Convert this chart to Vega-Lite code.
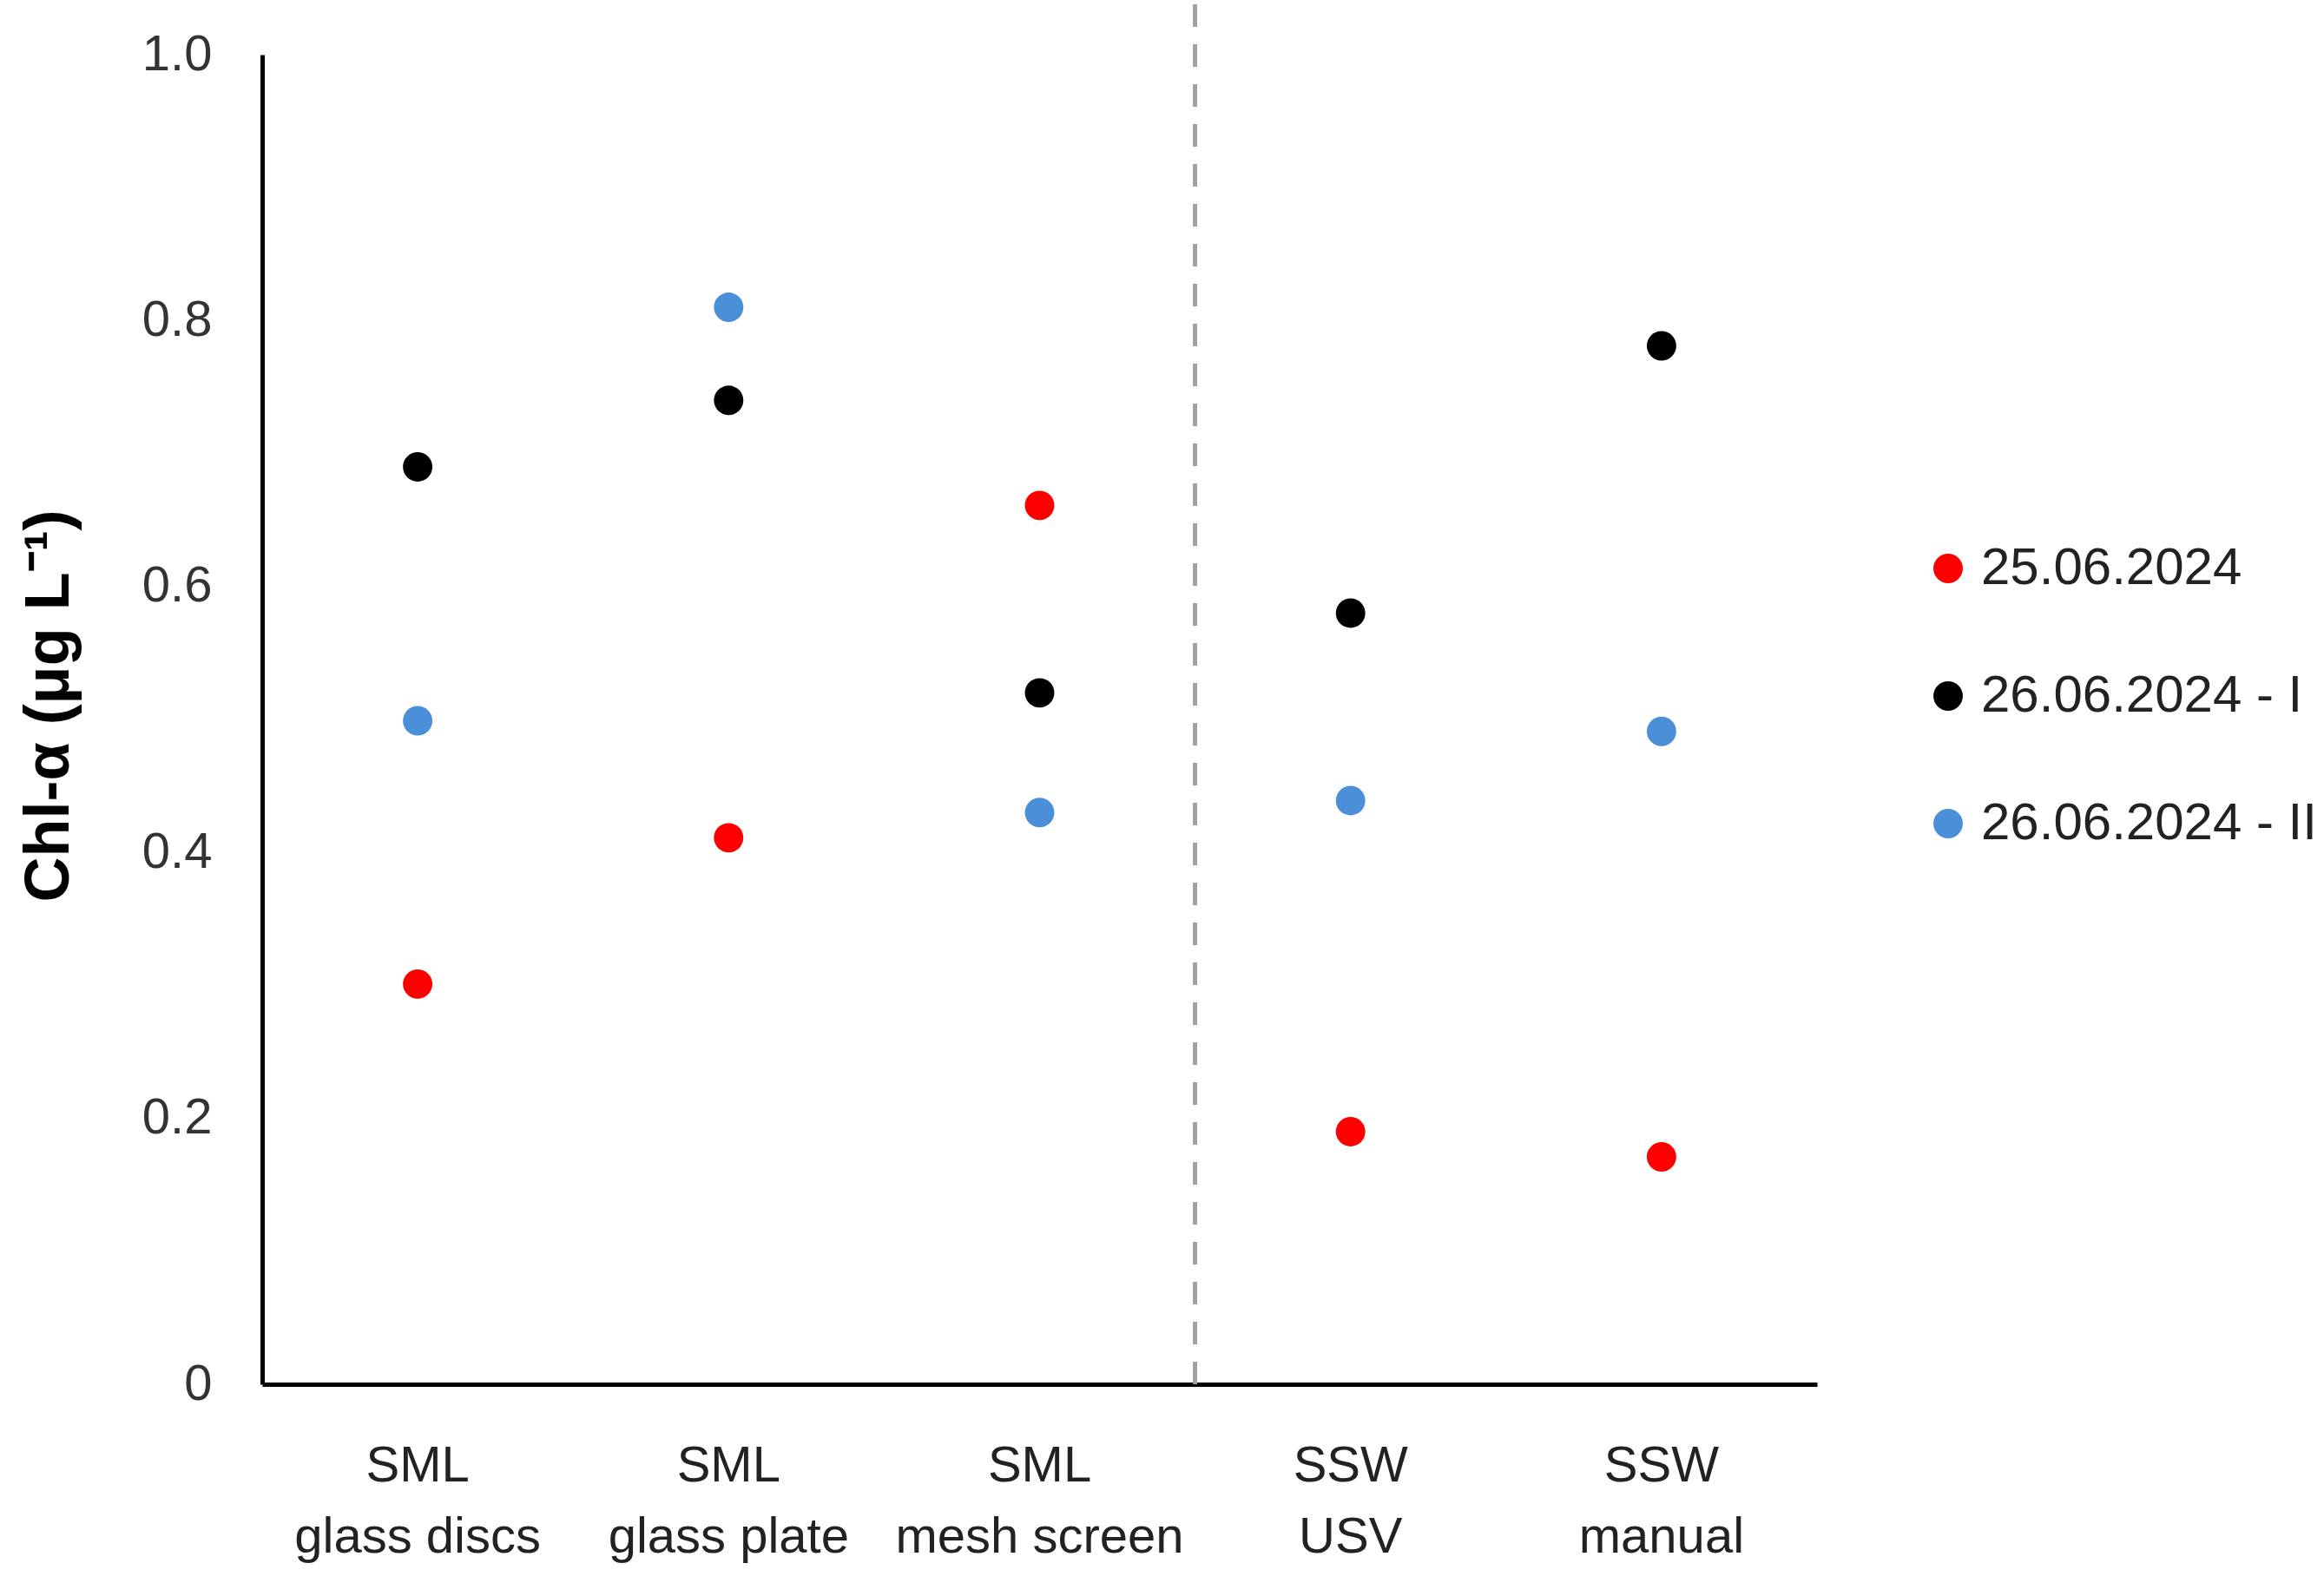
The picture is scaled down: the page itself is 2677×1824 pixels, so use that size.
{
  "$schema": "https://vega.github.io/schema/vega-lite/v6.json",
  "width": 1791,
  "height": 1532,
  "autosize": "none",
  "padding": {"left": 302, "top": 63, "right": 584, "bottom": 229},
  "background": "white",
  "config": {"view": {"stroke": null}, "font": "Liberation Sans"},
  "data": {
    "values": [
      {"method": "SML|glass discs", "date": "25.06.2024", "chl": 0.301},
      {"method": "SML|glass discs", "date": "26.06.2024 - I", "chl": 0.690},
      {"method": "SML|glass discs", "date": "26.06.2024 - II", "chl": 0.499},
      {"method": "SML|glass plate", "date": "25.06.2024", "chl": 0.411},
      {"method": "SML|glass plate", "date": "26.06.2024 - I", "chl": 0.740},
      {"method": "SML|glass plate", "date": "26.06.2024 - II", "chl": 0.810},
      {"method": "SML|mesh screen", "date": "25.06.2024", "chl": 0.661},
      {"method": "SML|mesh screen", "date": "26.06.2024 - I", "chl": 0.520},
      {"method": "SML|mesh screen", "date": "26.06.2024 - II", "chl": 0.430},
      {"method": "SSW|USV", "date": "25.06.2024", "chl": 0.190},
      {"method": "SSW|USV", "date": "26.06.2024 - I", "chl": 0.580},
      {"method": "SSW|USV", "date": "26.06.2024 - II", "chl": 0.439},
      {"method": "SSW|manual", "date": "25.06.2024", "chl": 0.171},
      {"method": "SSW|manual", "date": "26.06.2024 - I", "chl": 0.781},
      {"method": "SSW|manual", "date": "26.06.2024 - II", "chl": 0.491}
    ]
  },
  "layer": [
    {
      "mark": {"type": "rule", "color": "#a0a0a0", "strokeWidth": 3.5, "strokeDash": [26, 20]},
      "encoding": {
        "x": {"datum": "SML|mesh screen", "type": "nominal", "bandPosition": 1},
        "y": {"datum": 0, "type": "quantitative"},
        "y2": {"datum": 1.045}
      }
    },
    {
      "mark": {"type": "circle", "size": 1150, "opacity": 1},
      "encoding": {
        "x": {
          "field": "method",
          "type": "nominal",
          "sort": ["SML|glass discs", "SML|glass plate", "SML|mesh screen", "SSW|USV", "SSW|manual"],
          "scale": {"type": "band", "paddingInner": 0, "paddingOuter": 0, "domain": ["SML|glass discs", "SML|glass plate", "SML|mesh screen", "SSW|USV", "SSW|manual"]},
          "axis": {
            "title": null,
            "ticks": false,
            "grid": false,
            "labelAngle": 0,
            "labelAlign": "center",
            "labelExpr": "split(datum.label, '|')",
            "labelFontSize": 58,
            "labelLineHeight": 82,
            "labelPadding": 94,
            "labelLimit": 800,
            "labelColor": "#222222",
            "domainColor": "#000000",
            "domainWidth": 5
          }
        },
        "y": {
          "field": "chl",
          "type": "quantitative",
          "scale": {"domain": [0, 1], "nice": false, "zero": true},
          "axis": {
            "values": [0, 0.2, 0.4, 0.6, 0.8, 1],
            "labelExpr": "datum.value == 0 ? '0' : format(datum.value, '.1f')",
            "ticks": false,
            "grid": false,
            "domainColor": "#000000",
            "domainWidth": 5,
            "labelFontSize": 58,
            "labelPadding": 58,
            "labelColor": "#333333",
            "title": "Chl-α (μg L⁻¹)",
            "titleFontSize": 72,
            "titleFontWeight": "bold",
            "titleColor": "#000000",
            "titleX": -246,
            "titleY": 750,
            "titleBaseline": "middle"
          }
        },
        "color": {
          "field": "date",
          "type": "nominal",
          "scale": {"domain": ["25.06.2024", "26.06.2024 - I", "26.06.2024 - II"], "range": ["#ff0000", "#000000", "#4a8fd8"]},
          "legend": {
            "orient": "none",
            "legendX": 1912,
            "legendY": 562,
            "title": null,
            "padding": 0,
            "labelFontSize": 60,
            "labelColor": "#222222",
            "symbolSize": 1150,
            "symbolType": "circle",
            "symbolStrokeWidth": 0,
            "rowPadding": 87,
            "labelOffset": 8,
            "labelLimit": 600
          }
        }
      }
    }
  ]
}
